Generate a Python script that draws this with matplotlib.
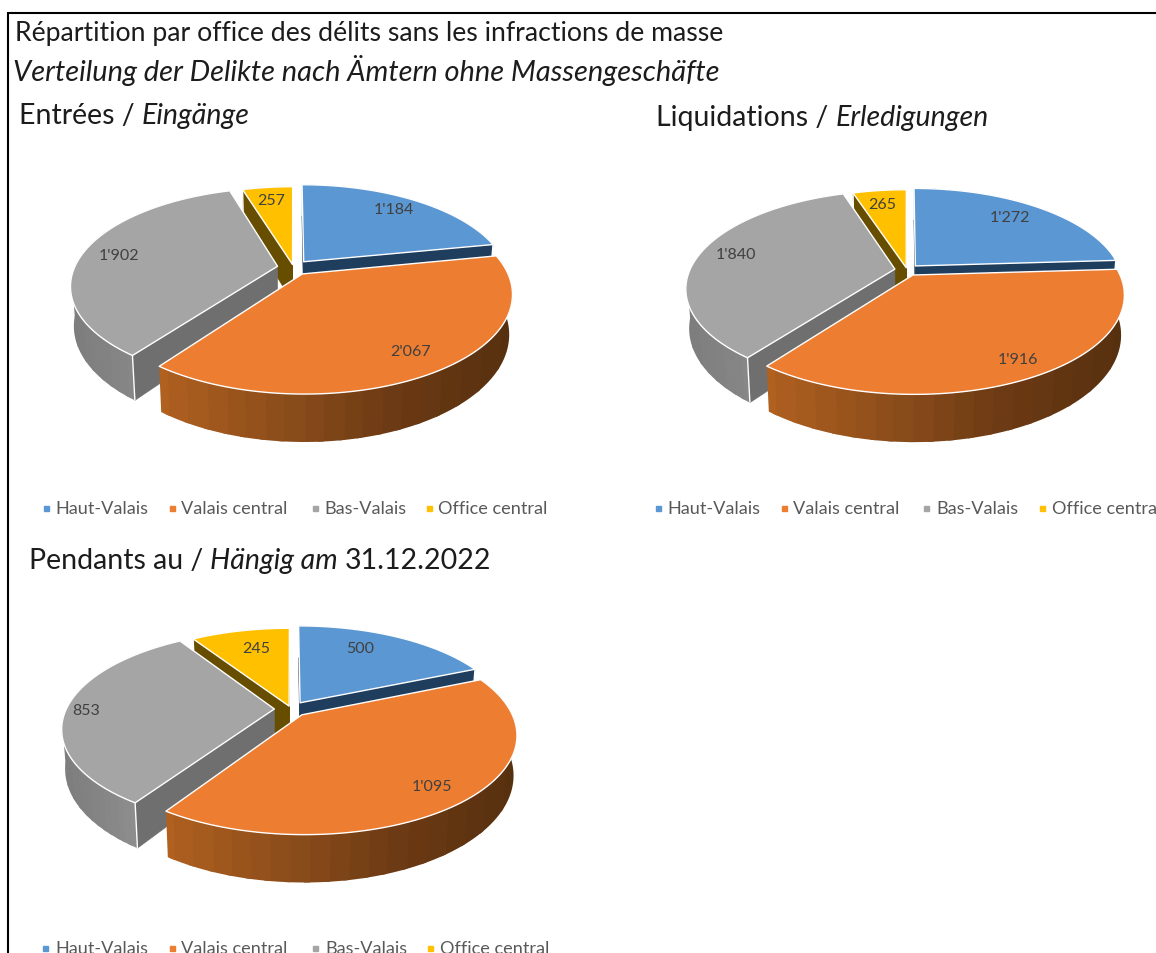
import numpy as np
import matplotlib
matplotlib.use("Agg")
import matplotlib.pyplot as plt
from matplotlib.patches import Polygon
from matplotlib.colors import to_rgb

# ---- data ----
offices = ["Haut-Valais", "Valais central", "Bas-Valais", "Office central"]
entrees = [1184, 2067, 1902, 257]
liquidations = [1272, 1916, 1840, 265]
pendants = [500, 1095, 853, 245]
labels_entrees = ["1'184", "2'067", "1'902", "257"]
labels_liquidations = ["1'272", "1'916", "1'840", "265"]
labels_pendants = ["500", "1'095", "853", "245"]

top_colors = ["#5B97D2", "#ED7D31", "#A5A5A5", "#FFC000"]
cut_colors = ["#1F3D5C", "#8A4A1C", "#6F6F6F", "#664D00"]
rim_stops = [
    ["#1F3D5C", "#1F3D5C"],
    ["#B0601F", "#8E4E1B", "#6C3A14", "#57300F"],
    ["#7D7D7D", "#858585", "#8F8F8F", "#A3A3A3"],
    ["#664D00", "#664D00"],
]
explode_factor = [1, 1, 1, 0.4]
FONT = "Lato"
TXT = "#1c1c1c"
LEG = "#595959"

W, H = 1156, 954
fig = plt.figure(figsize=(W / 100, H / 100), dpi=100, facecolor="white")
ax = fig.add_axes([0, 0, 1, 1])
ax.set_xlim(0, W)
ax.set_ylim(H, 0)
ax.axis("off")


def stop_color(stops, t):
    pos = np.linspace(0, 1, len(stops))
    rgb = np.array([to_rgb(c) for c in stops])
    return tuple(np.interp(t, pos, rgb[:, i]) for i in range(3))


def pie3d(values, labels, label_xy, cx, cy, rx=205, ry=94, k=0.194, e=0.08, depth=38):
    vals = np.asarray(values, float)
    edges = np.concatenate([[0], np.cumsum(vals) / vals.sum()]) * 2 * np.pi

    def project(u, v):
        s = 1 / (1 + k * v)
        return cx + rx * u * s, cy - ry * v * s, s

    def slice_pts(i):
        a0, a1 = edges[i], edges[i + 1]
        mid = (a0 + a1) / 2
        ee = e * explode_factor[i]
        ox, oy = ee * np.sin(mid), ee * np.cos(mid)
        th = np.linspace(a0, a1, 200)
        ax_, ay_, as_ = project(ox, oy)
        bx, by, bs = project(ox + np.sin(th), oy + np.cos(th))
        mx, my, _ = project(ox + 0.6 * np.sin(mid), oy + 0.6 * np.cos(mid))
        return (ax_, ay_, as_), (bx, by, bs), (mx, my)

    def drop(x, y, s):
        return cx + (x - cx) * 0.985, y + depth * s

    for i in [0, 3, 2, 1]:
        (ax0, ay0, as0), (bx, by, bs), (mx, my) = slice_pts(i)
        lox, hix = bx.min(), bx.max()
        dx, dy = drop(bx, by, bs)
        # outer rim, drawn as wide flat bands that overlap a little
        nb = 18
        band = np.round((bx - lox) / max(hix - lox, 1) * nb).astype(int)
        start = 0
        for j in range(1, len(bx) + 1):
            if j == len(bx) or band[j] != band[start]:
                stop = min(j + 2, len(bx) - 1)
                c = stop_color(rim_stops[i], band[start] / nb)
                pts = np.r_[np.column_stack([bx[start:stop + 1], by[start:stop + 1]]),
                            np.column_stack([dx[start:stop + 1], dy[start:stop + 1]])[::-1]]
                ax.add_patch(Polygon(pts, closed=True, facecolor=c, edgecolor="none", zorder=2))
                start = j
        # radial cut faces
        adx, ady = drop(ax0, ay0, as0)
        for j in (0, -1):
            ex, ey = bx[j] - ax0, by[j] - ay0
            nx, ny = -ey, ex
            if ny < 0:
                nx, ny = -nx, -ny
            if nx * (mx - ax0) + ny * (my - ay0) < 0:
                ax.add_patch(Polygon(
                    [(ax0, ay0), (bx[j], by[j]), (dx[j], dy[j]), (adx, ady)],
                    closed=True, facecolor=cut_colors[i], edgecolor=cut_colors[i], lw=0.4, zorder=2))
                ax.plot([bx[j], dx[j]], [by[j], dy[j]], color="white", lw=1.0, zorder=2,
                        solid_capstyle="butt")
        # top face
        ax.add_patch(Polygon(np.column_stack([np.r_[ax0, bx], np.r_[ay0, by]]), closed=True,
                             facecolor=top_colors[i], edgecolor="white", lw=1.0, zorder=2,
                             joinstyle="round"))
    for (lx, ly), t in zip(label_xy, labels):
        ax.text(lx, ly, t, ha="center", va="center", fontsize=11.5, color="#404040",
                family=FONT, zorder=5)


def chain(x, y, parts, size):
    rend = fig.canvas.get_renderer()
    for s, style in parts:
        t = ax.text(x, y, s, fontsize=size, family=FONT, style=style, color=TXT,
                    ha="left", va="center")
        x = x + t.get_window_extent(rend).width


def legend(y, marker_x, text_x):
    for mx, tx, c, name in zip(marker_x, text_x, top_colors, offices):
        ax.plot([mx], [y], marker="s", ms=3.6, color=c, ls="none", zorder=4)
        ax.text(tx, y, name, fontsize=13.1, family=FONT, color=LEG, ha="left", va="center")


# frame
ax.plot([8, 8, W], [H, 13.5, 13.5], color="black", lw=1.5, solid_joinstyle="miter")

# titles
ax.text(15, 33, "Répartition par office des délits sans les infractions de masse",
        fontsize=19.2, family=FONT, color=TXT, ha="left", va="center")
ax.text(13, 70, "Verteilung der Delikte nach Ämtern ohne Massengeschäfte",
        fontsize=20.9, family=FONT, style="italic", color=TXT, ha="left", va="center")
chain(19, 116, [("Entrées / ", "normal"), ("Eingänge", "italic")], 20.5)
chain(656, 118, [("Liquidations / ", "normal"), ("Erledigungen", "italic")], 20.5)
chain(29, 561, [("Pendants au / ", "normal"), ("Hängig am ", "italic"), ("31.12.2022", "normal")], 20.5)

# pies
pie3d(entrees, labels_entrees,
      [(394, 210), (411, 352), (119, 256), (271, 201)], 293.5, 268.5, rx=203)
pie3d(liquidations, labels_liquidations,
      [(1010, 218), (1018, 360), (736, 255), (882, 205)], 907, 271, rx=205, e=0.06)
pie3d(pendants, labels_pendants,
      [(360, 649), (432, 787), (86, 711), (256, 649)], 291, 710, rx=208)

# legends
legend(509, [46, 172, 315, 429], [55, 181, 324, 438])
legend(509, [658, 784, 926, 1042], [667, 793, 936, 1052])
legend(949, [45, 172, 315, 430], [55, 181, 325, 440])

fig.savefig("out.png", dpi=100, facecolor="white")
